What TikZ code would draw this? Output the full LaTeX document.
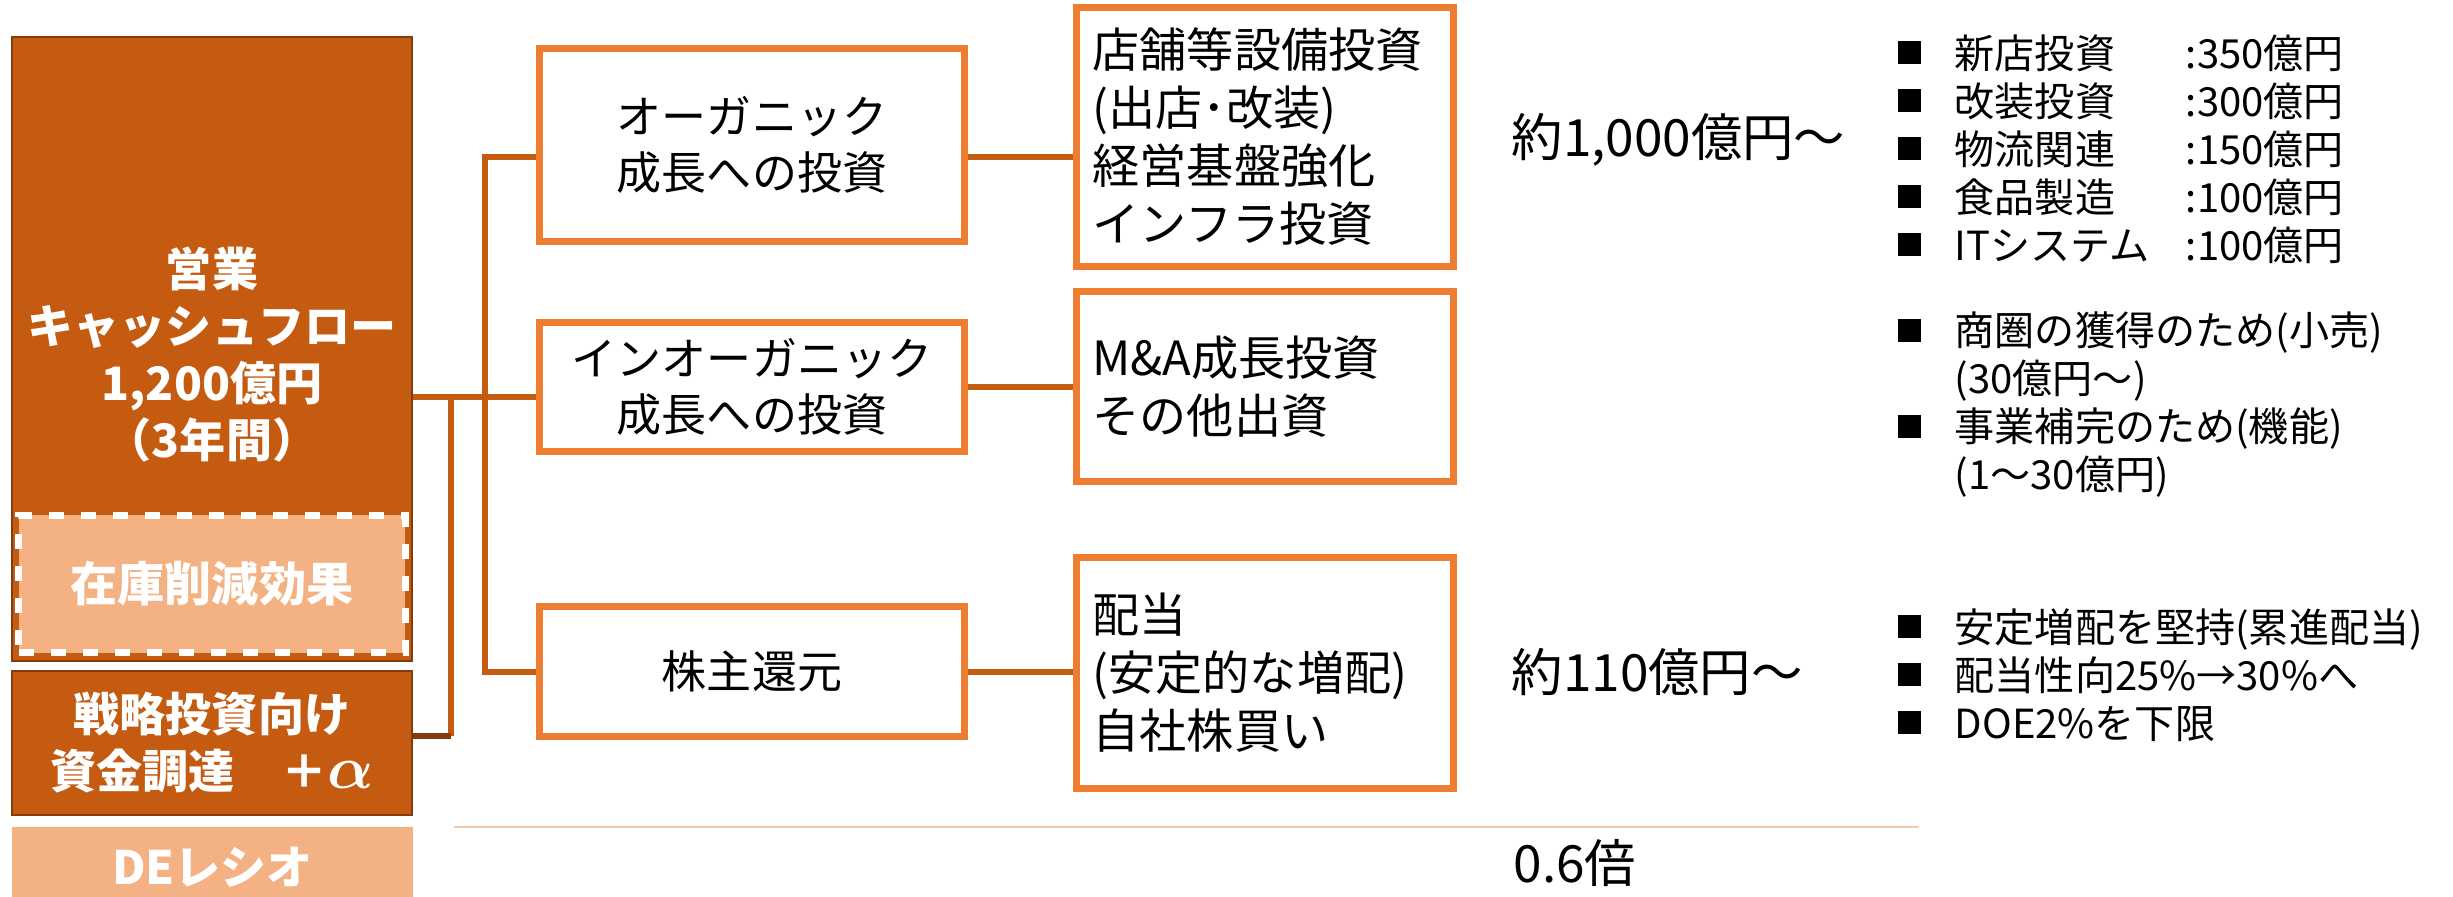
\documentclass[tikz,border=0pt]{standalone}
\usepackage{fontspec}
\setmainfont{Noto Sans CJK JP}
\usepackage{tikz}
\usetikzlibrary{backgrounds}

\definecolor{cfdark}{HTML}{C55A11}
\definecolor{cfdeep}{HTML}{843C0C}
\definecolor{cforange}{HTML}{ED7D31}
\definecolor{cflight}{HTML}{F4B183}
\definecolor{cfpale}{HTML}{F8CBAD}

\newcommand{\sqbul}{\makebox[0.57cm][l]{\rule[0.1em]{0.57em}{0.57em}}}
\newcommand{\sqind}{\hspace*{0.57cm}}
\newcommand{\costrow}[2]{\sqbul\makebox[2.31cm][l]{#1}#2}
\newcommand{\bigalpha}{{\fontsize{17pt}{17pt}\selectfont\boldmath$\alpha$}}

\tikzset{
	fundbox/.style={fill=cfdark,draw=cfdeep,line width=0.6pt,text=white,
		font=\bfseries\fontsize{13.1pt}{16.2pt}\selectfont,align=center,inner sep=0pt},
	fundtext/.style={text=white,font=\bfseries\fontsize{13.1pt}{16.2pt}\selectfont,
		align=center,inner sep=0pt},
	stockbox/.style={fill=cflight,draw=white,line width=2pt,dash pattern=on 4.3pt off 4.8pt,
		text=white,font=\bfseries\fontsize{13.4pt}{16.2pt}\selectfont,inner sep=0pt},
	debox/.style={fill=cflight,text=white,font=\bfseries\fontsize{13.1pt}{16.2pt}\selectfont,
		inner sep=0pt},
	aimbox/.style={draw=cforange,fill=white,line width=2.13pt,align=center,inner sep=0pt,
		font=\fontsize{12.8pt}{15.9pt}\selectfont},
	usebox/.style={draw=cforange,fill=white,line width=2.13pt,align=left,inner xsep=0.16cm,
		inner ysep=0pt,text width=3.445cm,font=\fontsize{13.4pt}{16.5pt}\selectfont},
	amount/.style={anchor=west,inner sep=0pt,font=\fontsize{14.6pt}{17pt}\selectfont},
	notelist/.style={anchor=west,inner sep=0pt,align=left,font=\fontsize{11.4pt}{13.65pt}\selectfont},
	link/.style={draw=cfdark,line width=1.7pt},
	paleline/.style={draw=cfpale,line width=0.6pt}
}

\begin{document}
\begin{tikzpicture}[x=0.01cm,y=-0.01cm]
	\useasboundingbox (0,0) rectangle (2453,896);
	\clip (0,0) rectangle (2453,896);

	\node[fundbox,minimum width=4cm,minimum height=6.24cm] (opcf) at (212,349) {};
	\node[fundtext] (opcflabel) at (212,355) {営業\\キャッシュフロー\\1,200億円\\（3年間）};
	\node[stockbox,minimum width=3.86cm,minimum height=1.37cm] (stock) at (212,584) {在庫削減効果};
	\node[fundbox,minimum width=4cm,minimum height=1.44cm] (strat) at (212,743) {戦略投資向け\\資金調達　＋\bigalpha};
	\node[debox,minimum width=4.01cm,minimum height=0.8cm] (de) at (212.5,867) {DEレシオ};

	\node[aimbox,minimum width=4.25cm,minimum height=1.925cm] (organic) at (752,145) {オーガニック\\成長への投資};
	\node[aimbox,minimum width=4.25cm,minimum height=1.285cm] (inorganic) at (752,387) {インオーガニック\\成長への投資};
	\node[aimbox,minimum width=4.25cm,minimum height=1.295cm] (payout) at (752,671.5) {株主還元};

	\node[usebox,minimum height=2.585cm] (capex) at (1265,137) {店舗等設備投資\\(出店･改装)\\経営基盤強化\\インフラ投資};
	\node[usebox,minimum height=1.895cm] (mna) at (1265,386.5) {M\&A成長投資\\その他出資};
	\node[usebox,minimum height=2.305cm] (shareback) at (1265,673) {配当\\(安定的な増配)\\自社株買い};

	\node[amount] (capexamt) at (1511,140) {約1,000億円～};
	\node[amount] (sharebackamt) at (1511,672) {約110億円～};
	\node[amount] (ratio) at (1513,863) {0.6倍};

	\node[notelist] (capexnote) at (1897,149) {\costrow{新店投資}{:350億円}\\\costrow{改装投資}{:300億円}\\\costrow{物流関連}{:150億円}\\\costrow{食品製造}{:100億円}\\\costrow{ITシステム}{:100億円}};
	\node[notelist] (mnanote) at (1897,405) {\sqbul 商圏の獲得のため(小売)\\\sqind(30億円～)\\\sqbul 事業補完のため(機能)\\\sqind(1～30億円)};
	\node[notelist] (sharebacknote) at (1897,675) {\sqbul 安定増配を堅持(累進配当)\\\sqbul 配当性向25\%→30\%へ\\\sqbul DOE2\%を下限};

	\coordinate (trunktop) at (485,157);
	\coordinate (trunkbot) at (485,672);
	\coordinate (trunkmid) at (485,397);
	\coordinate (brtop) at (451,397);
	\coordinate (brbot) at (451,736);
	\coordinate (ratiol) at (454,827);
	\coordinate (ratior) at (1919,827);

	\begin{scope}[on background layer]
		\draw[link] (organic.west |- trunktop) -- (trunktop) -- (trunkbot) -- (payout.west |- trunkbot);
		\draw[link] (opcf.east |- trunkmid) -- (inorganic.west |- trunkmid);
		\draw[link] (brtop) -- (brbot);
		\draw[link,cfdeep] (strat.east |- brbot) -- (brbot);
		\draw[link] (organic.east |- trunktop) -- (capex.west |- trunktop);
		\draw[link] (inorganic.east) -- (mna.west |- inorganic.east);
		\draw[link] (payout.east) -- (shareback.west |- payout.east);
	\end{scope}
	\draw[paleline] (ratiol) -- (ratior);
\end{tikzpicture}
\end{document}
